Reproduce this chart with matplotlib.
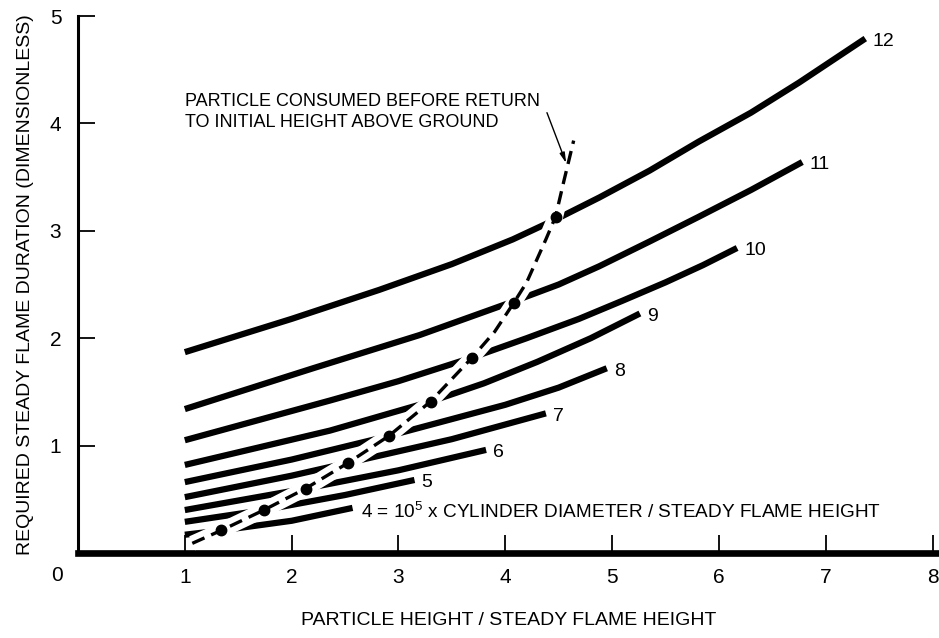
import matplotlib
matplotlib.use("Agg")
import matplotlib.pyplot as plt

FONT = ['Liberation Sans', 'DejaVu Sans']
plt.rcParams['font.family'] = FONT

# ---------------- data ----------------
curve_ids = [4, 5, 6, 7, 8, 9, 10, 11, 12]
c4_x = [1.0, 1.34, 2.0, 2.57]
c4_y = [0.17, 0.21, 0.30, 0.42]
c5_x = [1.0, 1.74, 2.5, 3.15]
c5_y = [0.29, 0.40, 0.54, 0.68]
c6_x = [1.0, 2.13, 3.0, 3.82]
c6_y = [0.40, 0.60, 0.77, 0.96]
c7_x = [1.0, 2.0, 2.53, 3.5, 4.38]
c7_y = [0.52, 0.72, 0.84, 1.06, 1.30]
c8_x = [1.0, 2.0, 2.91, 4.0, 4.5, 4.95]
c8_y = [0.66, 0.87, 1.09, 1.38, 1.54, 1.72]
c9_x = [1.0, 2.36, 3.3, 3.8, 4.3, 4.8, 5.26]
c9_y = [0.82, 1.14, 1.41, 1.58, 1.78, 2.00, 2.23]
c10_x = [1.0, 2.36, 3.0, 3.69, 4.2, 4.69, 5.1, 5.5, 5.85, 6.17]
c10_y = [1.05, 1.42, 1.60, 1.82, 2.00, 2.18, 2.35, 2.52, 2.68, 2.84]
c11_x = [1.0, 2.2, 3.2, 4.07, 4.5, 4.88, 5.35, 5.81, 6.3, 6.78]
c11_y = [1.34, 1.72, 2.03, 2.34, 2.50, 2.67, 2.90, 3.13, 3.38, 3.64]
c12_x = [1.0, 2.0, 2.82, 3.5, 4.07, 4.48, 4.88, 5.35, 5.81, 6.3, 6.75, 7.37]
c12_y = [1.87, 2.18, 2.45, 2.69, 2.92, 3.11, 3.31, 3.56, 3.83, 4.10, 4.38, 4.79]

curves_x = [c4_x, c5_x, c6_x, c7_x, c8_x, c9_x, c10_x, c11_x, c12_x]
curves_y = [c4_y, c5_y, c6_y, c7_y, c8_y, c9_y, c10_y, c11_y, c12_y]

# dashed boundary curve and its dots
bound_x = [1.07, 1.34, 1.74, 2.13, 2.53, 2.91, 3.30, 3.69, 3.90, 4.08, 4.20, 4.29, 4.38, 4.47, 4.55, 4.64]
bound_y = [0.09, 0.21, 0.40, 0.60, 0.84, 1.09, 1.41, 1.82, 2.06, 2.33, 2.52, 2.72, 2.92, 3.13, 3.47, 3.84]
dot_x = [1.34, 1.74, 2.13, 2.53, 2.91, 3.30, 3.69, 4.08, 4.47]
dot_y = [0.21, 0.40, 0.60, 0.84, 1.09, 1.41, 1.82, 2.33, 3.13]

x_ticks = [1, 2, 3, 4, 5, 6, 7, 8]
y_ticks = [1, 2, 3, 4, 5]

x_label = "PARTICLE HEIGHT / STEADY FLAME HEIGHT"
y_label = "REQUIRED STEADY FLAME DURATION (DIMENSIONLESS)"
note_text = "PARTICLE CONSUMED BEFORE RETURN\nTO INITIAL HEIGHT ABOVE GROUND"
legend_text = r"4 = $\mathregular{10^5}$ x CYLINDER DIAMETER / STEADY FLAME HEIGHT"

# ---------------- figure ----------------
fig = plt.figure(figsize=(9.39, 6.38), dpi=100)
ax = fig.add_axes([78/939, 85/638, 861/939, 537/638])
ax.set_xlim(0, 8.06)
ax.set_ylim(0, 5)

for cid, xs, ys in zip(curve_ids, curves_x, curves_y):
    ax.plot(xs, ys, color='black', lw=4.5, solid_capstyle='butt',
            solid_joinstyle='round', zorder=2)
    if cid == 4:
        ax.annotate(legend_text, xy=(xs[-1], ys[-1]), xytext=(6, -3),
                    textcoords='offset points', ha='left', va='center',
                    fontsize=13.7, zorder=5)
    else:
        ax.annotate(str(cid), xy=(xs[-1], ys[-1]), xytext=(5, -2),
                    textcoords='offset points', ha='left', va='center',
                    fontsize=14, zorder=5)

# white gap under the dashed curve
ax.plot(bound_x, bound_y, color='white', lw=11, solid_capstyle='butt', zorder=3)
ax.plot(bound_x, bound_y, color='black', lw=2.4, dashes=(4, 2.2), zorder=4)
ax.plot(dot_x, dot_y, 'o', color='black', ms=7.5, zorder=4)

ax.text(1.0, 4.107, note_text, ha='left', va='center', fontsize=13,
        linespacing=1.25)
ax.annotate("", xy=(4.57, 3.63), xytext=(4.39, 4.10),
            arrowprops=dict(arrowstyle='-|>,head_length=0.6,head_width=0.15',
                            color='black', lw=1.0, shrinkA=0, shrinkB=0))

# axes styling
for s in ['top', 'right']:
    ax.spines[s].set_visible(False)
ax.spines['left'].set_linewidth(2.2)
ax.spines['bottom'].set_linewidth(4.8)
ax.spines['left'].set_bounds(0, 5)

ax.set_xticks(x_ticks)
ax.set_xticklabels([str(v) for v in x_ticks])
ax.set_yticks(y_ticks)
ax.set_yticklabels([str(v) for v in y_ticks])
ax.tick_params(axis='x', direction='in', length=13, width=1.3, pad=11,
               labelsize=15)
ax.tick_params(axis='y', direction='in', length=12, width=1.3, pad=12,
               labelsize=15)
ax.annotate("0", xy=(0, 0), xycoords='data', xytext=(-15, -16.5),
            textcoords='offset points', ha='center', va='center',
            fontsize=15, annotation_clip=False)

ax.set_xlabel(x_label, fontsize=14)
ax.set_ylabel(y_label, fontsize=14)
ax.xaxis.set_label_coords(0.5, -0.110)
ax.yaxis.set_label_coords(-0.051, 0.5)

fig.savefig("out.png", dpi=100)
